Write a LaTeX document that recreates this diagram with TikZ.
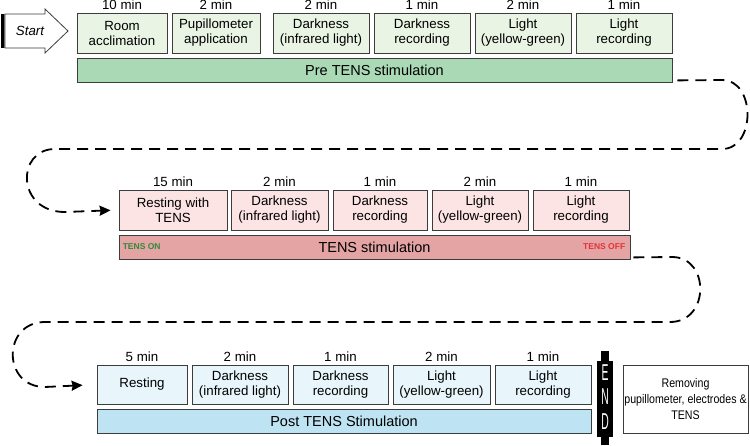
\documentclass[tikz,border=0pt]{standalone}
\usepackage{fontspec}
\setmainfont{Liberation Sans}
\usetikzlibrary{positioning,arrows.meta,calc}
\definecolor{bdr}{HTML}{3C3C3C}
\definecolor{gbox}{HTML}{E9F4E4}
\definecolor{gbar}{HTML}{A9D9B5}
\definecolor{pbox}{HTML}{FBE4E3}
\definecolor{pbar}{HTML}{E4A4A4}
\definecolor{bbox}{HTML}{E8F5FB}
\definecolor{bbar}{HTML}{BEE3F2}
\definecolor{tenson}{HTML}{2F8A3E}
\definecolor{tensoff}{HTML}{E5323C}
\newcommand{\narrow}[1]{\scalebox{.85}[1]{#1}}
\tikzset{stepbox/.style={draw=bdr,line width=.8pt,minimum height=40pt,align=center,inner sep=1pt,font=\fontsize{13.3}{15}\selectfont},
phase/.style={draw=bdr,line width=.8pt,minimum height=24pt,inner sep=0pt,font=\fontsize{14.5}{17}\selectfont},
tlbl/.style={inner sep=2pt,font=\fontsize{13.3}{15}\selectfont},
tag/.style={inner sep=0pt,font=\fontsize{8.5}{10}\selectfont\bfseries},
endltr/.style={text=white,inner sep=0pt,font=\fontsize{23}{23}\selectfont},
flow/.style={line width=1.8pt,dash pattern=on 11pt off 7pt,-{Stealth[length=11pt,width=10pt,inset=1pt]}}}

\begin{document}
\begin{tikzpicture}[x=1pt,y=-1pt]
\useasboundingbox (0,0) rectangle (750,445);
% start
\fill[black] (1,14) rectangle (4,48);
\draw[gray,line width=.6pt] (4.5,14) -- (4.5,48);
\draw[bdr,line width=.8pt,fill=white] (5,14) -- (45,14) -- (45,9) -- (68,31) -- (45,53) -- (45,48) -- (5,48) -- cycle;
\node[tlbl,font=\fontsize{13.3}{15}\selectfont\itshape] (start) at (30,31) {Start};
% pre TENS
\node[stepbox,fill=gbox,minimum width=90pt] (a1) at (122,33) {Room\\acclimation};
\node[stepbox,fill=gbox,minimum width=88pt] (a2) at (216,33) {Pupillometer\\application};
\node[stepbox,fill=gbox,minimum width=96pt] (a3) at (321,33) {Darkness\\(infrared light)};
\node[stepbox,fill=gbox,minimum width=96pt] (a4) at (422,33) {Darkness\\recording};
\node[stepbox,fill=gbox,minimum width=96pt] (a5) at (523,33) {Light\\(yellow-green)};
\node[stepbox,fill=gbox,minimum width=96pt] (a6) at (624,33) {Light\\recording};
\node[tlbl,above=1pt of a1] {10 min};
\node[tlbl,above=1pt of a2] {2 min};
\node[tlbl,above=1pt of a3] {2 min};
\node[tlbl,above=1pt of a4] {1 min};
\node[tlbl,above=1pt of a5] {2 min};
\node[tlbl,above=1pt of a6] {1 min};
\node[phase,fill=gbar,minimum width=595pt] (pre) at (374.5,70) {Pre TENS stimulation};
% TENS
\node[stepbox,fill=pbox,minimum width=108pt] (b1) at (173,210) {Resting with\\TENS};
\node[stepbox,fill=pbox,minimum width=97pt] (b2) at (279.5,210) {Darkness\\(infrared light)};
\node[stepbox,fill=pbox,minimum width=94pt] (b3) at (380,210) {Darkness\\recording};
\node[stepbox,fill=pbox,minimum width=96pt] (b4) at (480,210) {Light\\(yellow-green)};
\node[stepbox,fill=pbox,minimum width=96pt] (b5) at (581,210) {Light\\recording};
\node[tlbl,above=1pt of b1] {15 min};
\node[tlbl,above=1pt of b2] {2 min};
\node[tlbl,above=1pt of b3] {1 min};
\node[tlbl,above=1pt of b4] {2 min};
\node[tlbl,above=1pt of b5] {1 min};
\node[phase,fill=pbar,minimum width=511pt] (stim) at (374.5,247) {TENS stimulation};
\node[tag,text=tenson,anchor=west] (on) at ($(stim.west)+(4,0)$) {TENS ON};
\node[tag,text=tensoff,anchor=east] (off) at ($(stim.east)+(-5,0)$) {TENS OFF};
% post TENS
\node[stepbox,fill=bbox,minimum width=90pt,minimum height=39pt] (c1) at (142,384.5) {Resting};
\node[stepbox,fill=bbox,minimum width=96pt,minimum height=39pt] (c2) at (240,384.5) {Darkness\\(infrared light)};
\node[stepbox,fill=bbox,minimum width=95pt,minimum height=39pt] (c3) at (340.5,384.5) {Darkness\\recording};
\node[stepbox,fill=bbox,minimum width=97pt,minimum height=39pt] (c4) at (441.5,384.5) {Light\\(yellow-green)};
\node[stepbox,fill=bbox,minimum width=96pt,minimum height=39pt] (c5) at (543,384.5) {Light\\recording};
\node[tlbl,above=1pt of c1] {5 min};
\node[tlbl,above=1pt of c2] {2 min};
\node[tlbl,above=1pt of c3] {1 min};
\node[tlbl,above=1pt of c4] {2 min};
\node[tlbl,above=1pt of c5] {1 min};
\node[phase,fill=bbar,minimum width=494pt] (post) at (344,421) {Post TENS Stimulation};
% end
\fill[black] (601,351) rectangle (609,445);
\fill[black] (597,361) rectangle (613,437);
\node[endltr] (e1) at (605,373) {\scalebox{.45}[1]{E}};
\node[endltr] (e2) at (605,397) {\scalebox{.45}[1]{N}};
\node[endltr] (e3) at (605,422) {\scalebox{.45}[1]{D}};
\node[draw=bdr,line width=.8pt,fill=white,align=center,minimum width=125pt,minimum height=68pt,inner sep=1pt,font=\fontsize{12.5}{16}\selectfont] (rem) at (685.5,399) {\narrow{Removing}\\\narrow{pupillometer, electrodes \&}\\\narrow{TENS}};
% links
\coordinate (k1) at ($(pre.south east)+(5,-2)$);
\coordinate (k2) at ($(stim.south east)+(3,-2)$);
\draw[flow,shorten >=8pt] (k1) -- (722,80) .. controls (756,80) and (756,149) .. (722,149) -- (55,149) .. controls (16,149) and (16,212) .. (65,212) -- (b1.west);
\draw[flow,shorten >=14pt] (k2) -- (672,257) .. controls (710,257) and (710,322) .. (670,322) -- (45,322) .. controls (2,322) and (2,387) .. (45,387) -- (c1.west);
\end{tikzpicture}
\end{document}
